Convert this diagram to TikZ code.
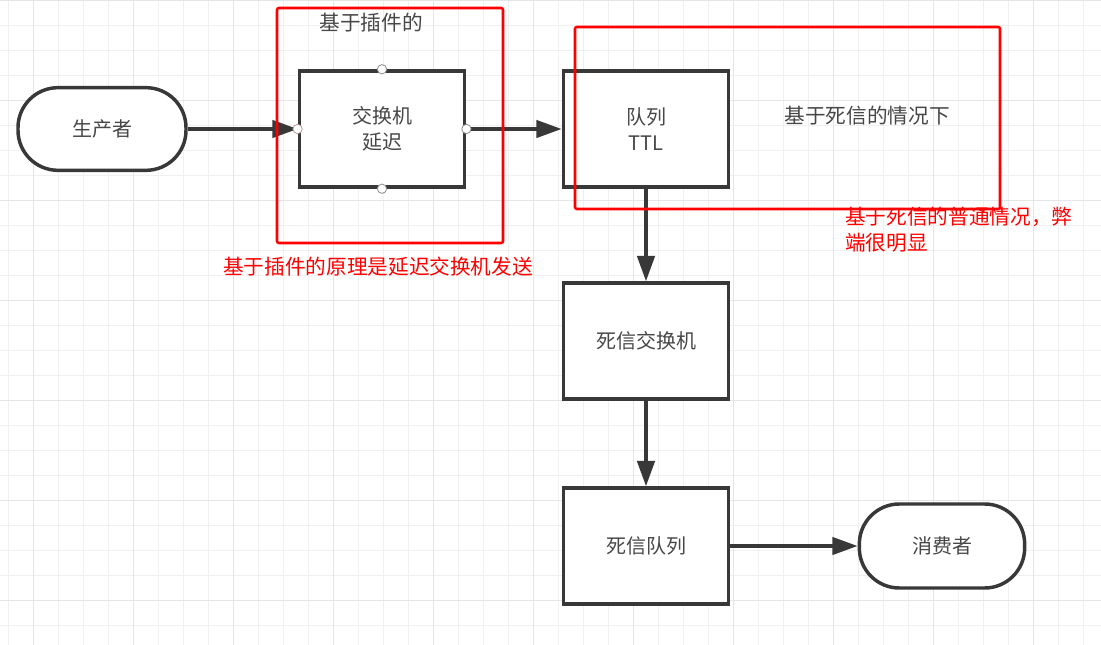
\documentclass[tikz,border=0pt]{standalone}
\usepackage{fontspec}
\setmainfont{Noto Sans CJK SC}
\usetikzlibrary{arrows.meta}

\begin{document}
\begin{tikzpicture}[x=0.75pt,y=-0.75pt,
    main node/.style={rectangle,draw=black!78,line width=2.6pt,fill=white,minimum width=124pt,minimum height=87pt,align=center,text=black!72,font=\fontsize{15}{19.5}\selectfont},
    end node/.style={main node,rounded corners=30pt,minimum height=62pt},
    port/.style={circle,draw=black!45,fill=white,line width=0.6pt,inner sep=0pt,minimum size=7pt},
    note/.style={inner sep=0pt,text=red,font=\fontsize{15.5}{19.5}\selectfont,align=left},
    redframe/.style={draw=red,line width=1.9pt,rounded corners=1.5pt},
    flow/.style={draw=black!78,line width=2.6pt,-{Triangle[length=19pt,width=13pt]}}]
    \fill[white] (0,0) rectangle (1101,645);
    \useasboundingbox (0,0) rectangle (1101,645);
    % grid
    \foreach \gx in {8,33,...,1101}
        \draw[black!6,line width=0.6pt] (\gx,0) -- (\gx,645);
    \foreach \gy in {0,25,...,645}
        \draw[black!6,line width=0.6pt] (0,\gy) -- (1101,\gy);
    \foreach \gx in {33,133,...,1101}
        \draw[black!10,line width=0.7pt] (\gx,0) -- (\gx,645);
    \foreach \gy in {0,100,...,645}
        \draw[black!10,line width=0.7pt] (0,\gy) -- (1101,\gy);

    \node[end node,minimum width=126pt] at (102,129) (prod) {生产者};
    \node[main node] at (382,129) (ex) {交换机\\延迟};
    \node[main node] at (646,129) (q) {队列\\TTL};
    \node[main node] at (646,341) (dlx) {死信交换机};
    \node[main node] at (646,546) (dlq) {死信队列};
    \node[end node,minimum height=63pt] at (942,546) (cons) {消费者};

    \path
        (prod) edge[flow] (ex)
        (ex) edge[flow] (q)
        (q) edge[flow] (dlx)
        (dlx) edge[flow] (dlq)
        (dlq) edge[flow] (cons);

    \node[port,draw=red!35!black!40] at (ex.west) (exw) {};
    \node[port] at (ex.east) (exe) {};
    \node[port] at (ex.north) (exn) {};
    \node[port] at (ex.south) (exs) {};

    \draw[redframe] (277,8) rectangle (503,243);
    \draw[redframe] (575,27) rectangle (1000,209);

    \node[note,text=black!72] at (371,23) (plug) {基于插件的};
    \node[note,text=black!72] at (867,116) (dead) {基于死信的情况下};
    \node[note] at (378,267) (plugnote) {基于插件的原理是延迟交换机发送};
    \node[note,anchor=north west] at (845,207) (deadnote) {基于死信的普通情况，弊\\端很明显};
\end{tikzpicture}
\end{document}
